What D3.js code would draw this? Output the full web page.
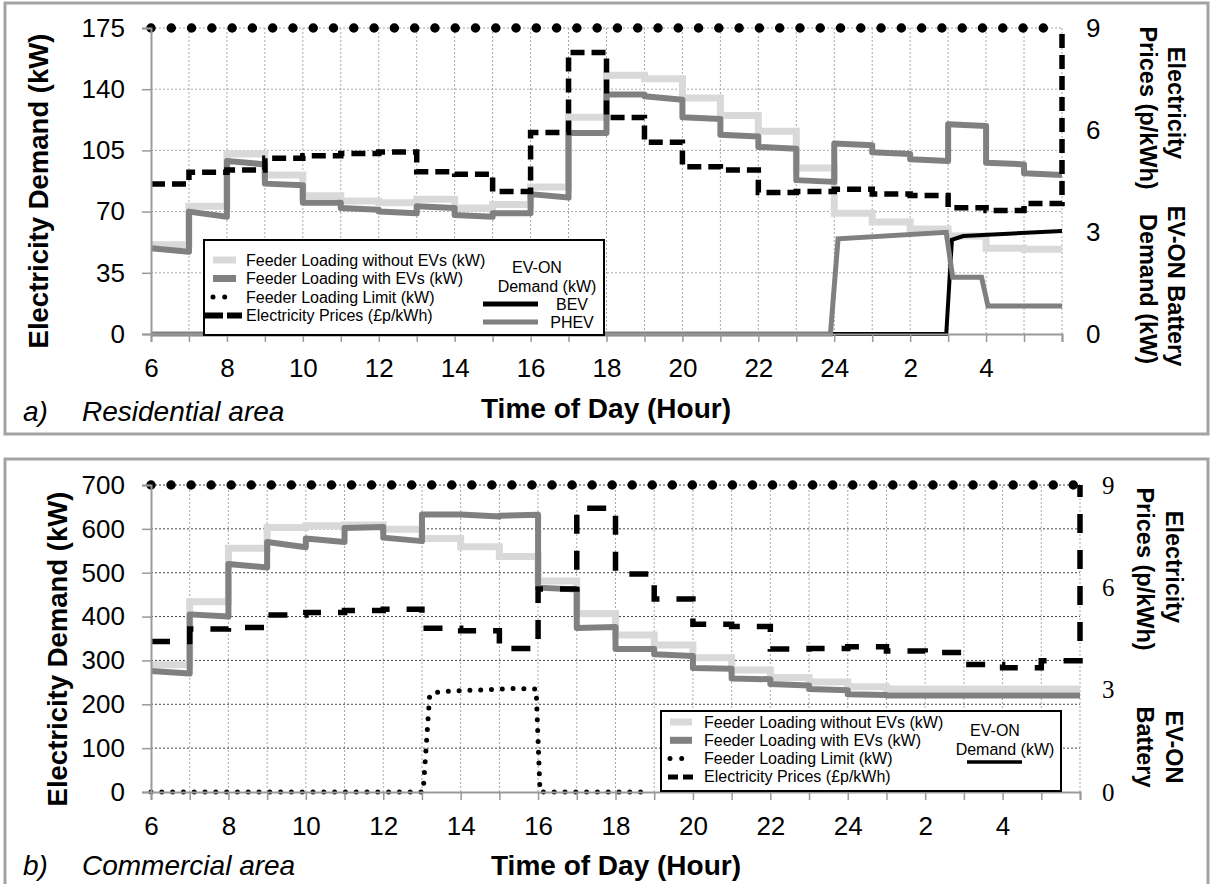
<!DOCTYPE html>
<html>
<head>
<meta charset="utf-8">
<script src="https://cdn.jsdelivr.net/npm/d3@7"></script>
<style>
body { margin: 0; background: #fff; }
text { font-family: "Liberation Sans", Arial, sans-serif; }
</style>
</head>
<body>
<script>
// hourly intervals 6:00 .. 5:00 next day (hour 24 = midnight)
const hours = d3.range(6, 30);
const tickHours = d3.range(6, 31);
const xLabelHours = d3.range(6, 30, 2);
const xLabels = ["6", "8", "10", "12", "14", "16", "18", "20", "22", "24", "2", "4"];
const priceTicks = [0, 3, 6, 9];
const legendLabels = ["Feeder Loading without EVs (kW)", "Feeder Loading with EVs (kW)",
  "Feeder Loading Limit (kW)", "Electricity Prices (£p/kWh)"];

// a) residential area
const resTicks = [0, 35, 70, 105, 140, 175];
const resLimit = 175;
const resNoEV = [51, 73, 103, 91, 79, 76, 75, 77, 72, 74, 84, 124, 148, 146, 135, 125, 116, 95, 69, 64, 60, 56, 49, 48.5];
const resEVStart = [49, 70, 99, 86, 75, 72, 70, 73, 68, 69, 80, 115, 137, 136, 124, 114, 107, 88, 109, 104, 100, 120, 98, 92];
const resEVEnd = [47, 67, 97, 85, 75, 71, 69, 72, 67, 69, 78, 115, 137, 134, 123, 113, 106, 87, 108, 103, 99, 119, 97, 91];
const resPrice = [4.41, 4.76, 4.82, 5.17, 5.24, 5.31, 5.35, 4.77, 4.70, 4.19, 5.93, 8.28, 6.37, 5.64, 4.92, 4.82, 4.16, 4.19, 4.26, 4.12, 4.07, 3.71, 3.63, 3.84];
const resPriceEnd = 9;
const resBEV = [[6, 0], [26.95, 0], [27.1, 2.77], [27.4, 2.88], [30, 3.03]];
const resPHEV = [[6, 0], [23.9, 0], [24.1, 2.8], [26.95, 2.99], [27.12, 1.67], [27.88, 1.67], [28.05, 0.82], [30, 0.82]];

// b) commercial area
const comTicks = [0, 100, 200, 300, 400, 500, 600, 700];
const comLimit = 700;
const comNoEV = [290, 434, 556, 603, 607, 609, 599, 578, 559, 537, 481, 407, 358, 335, 306, 278, 261, 251, 240, 235, 235, 235, 235, 235];
const comEVStart = [276, 405, 520, 570, 578, 602, 580, 633, 633, 630, 466, 374, 326, 314, 283, 259, 246, 235, 223, 220, 220, 220, 220, 220];
const comEVEnd = [270, 400, 512, 558, 570, 604, 572, 633, 628, 632, 462, 376, 326, 310, 281, 257, 243, 232, 221, 220, 220, 220, 220, 220];
const comPrice = [4.41, 4.78, 4.82, 5.19, 5.26, 5.32, 5.36, 4.80, 4.73, 4.21, 5.95, 8.32, 6.39, 5.66, 4.92, 4.85, 4.19, 4.21, 4.26, 4.13, 4.09, 3.74, 3.64, 3.85];
const comPriceEnd = 9;
const comEVON = [[6, 0], [13.03, 0], [13.2, 222], [13.45, 229], [15.4, 236], [15.95, 235], [16.05, 0], [18.8, 0]];

const svg = d3.select("body").append("svg")
  .attr("width", 1212)
  .attr("height", 884);

function stepPts(vals) {
  const pts = [];
  vals.forEach((v, i) => { pts.push([hours[i], v], [hours[i] + 1, v]); });
  return pts;
}

function slopePts(starts, ends) {
  const pts = [];
  starts.forEach((v, i) => { pts.push([hours[i], v], [hours[i] + 1, ends[i]]); });
  return pts;
}

function drawPanel(c) {
  const g = svg.append("g");

  g.append("rect")
    .attr("x", 5).attr("y", c.boxY)
    .attr("width", 1203).attr("height", c.boxH)
    .attr("fill", "#fff")
    .attr("stroke", "#a3a3a3")
    .attr("stroke-width", 3);

  const x = d3.scaleLinear().domain([6, 30]).range(c.xRange);
  const y = d3.scaleLinear().domain([0, c.yMax]).range(c.yRange);
  const y2 = d3.scaleLinear().domain([0, 9]).range(c.yRange);

  // grid
  g.selectAll(".vgrid")
    .data(tickHours.slice(1))
    .enter().append("line")
    .attr("x1", d => x(d)).attr("x2", d => x(d))
    .attr("y1", y(0)).attr("y2", y(c.yMax))
    .attr("stroke", "#a8a8a8")
    .attr("stroke-width", 1)
    .attr("stroke-dasharray", "2,2");

  g.selectAll(".hgrid")
    .data(c.yTicks.slice(1))
    .enter().append("line")
    .attr("x1", x(6)).attr("x2", x(30))
    .attr("y1", d => y(d)).attr("y2", d => y(d))
    .attr("stroke", c.hGrid)
    .attr("stroke-width", 1)
    .attr("stroke-dasharray", "2,2");

  const lineL = d3.line().x(d => x(d[0])).y(d => y(d[1]));
  const lineR = d3.line().x(d => x(d[0])).y(d => y2(d[1]));

  g.append("path")
    .attr("d", lineL(stepPts(c.noEV)))
    .attr("fill", "none").attr("stroke", "#d9d9d9").attr("stroke-width", 7);

  g.append("path")
    .attr("d", lineL(slopePts(c.evStart, c.evEnd)))
    .attr("fill", "none").attr("stroke", "#808080").attr("stroke-width", 6)
    .attr("stroke-linejoin", "round");

  g.append("path")
    .attr("d", lineL([[6, c.limit], [30, c.limit]]))
    .attr("fill", "none").attr("stroke", "#000").attr("stroke-width", 9.5)
    .attr("stroke-linecap", "round")
    .attr("stroke-dasharray", c.limitDash);

  if (c.evon) {
    g.append("path")
      .attr("d", lineL(c.evon))
      .attr("fill", "none").attr("stroke", "#000").attr("stroke-width", 5)
      .attr("stroke-linecap", "round")
      .attr("stroke-dasharray", "0,10.8");
  }

  g.append("path")
    .attr("d", lineR(stepPts(c.price).concat([[30, c.priceEnd]])))
    .attr("fill", "none").attr("stroke", "#000").attr("stroke-width", 5.5)
    .attr("stroke-dasharray", c.priceDash);

  if (c.bev) {
    g.append("path")
      .attr("d", lineR(c.bev))
      .attr("fill", "none").attr("stroke", "#000").attr("stroke-width", 4);
    g.append("path")
      .attr("d", lineR(c.phev))
      .attr("fill", "none").attr("stroke", "#808080").attr("stroke-width", 5);
  }

  // axes
  const ax = g.append("g")
    .attr("transform", "translate(0," + y(0) + ")")
    .call(d3.axisBottom(x).tickValues(tickHours).tickSize(8).tickPadding(17)
      .tickFormat(d => { const i = xLabelHours.indexOf(d); return i < 0 ? "" : xLabels[i]; }));
  const ay = g.append("g")
    .attr("transform", "translate(" + x(6) + ",0)")
    .call(d3.axisLeft(y).tickValues(c.yTicks).tickSize(9).tickPadding(17));
  [ax, ay].forEach(a => {
    a.select(".domain").attr("stroke", "#999").attr("stroke-width", 2);
    a.selectAll(".tick line").attr("stroke", "#999").attr("stroke-width", 1.5);
    a.selectAll("text").attr("fill", "#000").style("font-size", "26px")
      .style("font-family", "'Liberation Sans', Arial, sans-serif");
  });

  const ar = g.append("g")
    .attr("transform", "translate(" + x(30) + ",0)")
    .call(d3.axisRight(y2).tickValues(priceTicks).tickSize(0).tickPadding(c.rPad));
  ar.select(".domain").remove();
  ar.selectAll("text").attr("fill", "#000").style("font-size", c.rFontSize)
    .style("font-family", c.rFont);

  // titles
  g.append("text")
    .attr("transform", "translate(" + c.yTitle[0] + "," + c.yTitle[1] + ") rotate(-90)")
    .attr("text-anchor", "middle").attr("dominant-baseline", "central")
    .style("font-size", "27.5px").style("font-weight", "bold")
    .text("Electricity Demand (kW)");

  g.append("text")
    .attr("x", c.xTitle[0]).attr("y", c.xTitle[1])
    .attr("text-anchor", "middle")
    .style("font-size", "28px").style("font-weight", "bold")
    .text("Time of Day (Hour)");

  c.rTitles.forEach(t => {
    g.append("text")
      .attr("transform", "translate(" + t[1] + "," + t[2] + ") rotate(90)")
      .attr("text-anchor", "middle").attr("dominant-baseline", "central")
      .style("font-size", "23.5px").style("font-weight", "bold")
      .text(t[0]);
  });

  g.append("text")
    .attr("x", 23).attr("y", c.capY)
    .style("font-size", "28px").style("font-style", "italic")
    .text(c.capTag);
  g.append("text")
    .attr("x", 82).attr("y", c.capY)
    .style("font-size", "28px").style("font-style", "italic")
    .text(c.capText);

  // legend
  const L = c.legend;
  const lg = g.append("g");
  lg.append("rect")
    .attr("x", L.x).attr("y", L.y).attr("width", L.w).attr("height", L.h)
    .attr("fill", "#fff").attr("stroke", "#000").attr("stroke-width", 2);

  const styles = [
    { stroke: "#d9d9d9", width: 7, dash: null, cap: "butt" },
    { stroke: "#808080", width: 7, dash: null, cap: "butt" },
    { stroke: "#000", width: 5, dash: "0,11.7", cap: "round" },
    { stroke: "#000", width: L.dashW, dash: L.dash, cap: "butt" }
  ];
  const items = lg.selectAll(".item")
    .data(legendLabels)
    .enter().append("g")
    .attr("transform", (d, i) => "translate(0," + (L.row0 + i * L.rowStep) + ")");
  items.append("line")
    .attr("x1", (d, i) => i === 3 ? L.dashX[0] : L.sx[0])
    .attr("x2", (d, i) => i === 3 ? L.dashX[1] : L.sx[1])
    .attr("stroke", (d, i) => styles[i].stroke)
    .attr("stroke-width", (d, i) => styles[i].width)
    .attr("stroke-linecap", (d, i) => styles[i].cap)
    .attr("stroke-dasharray", (d, i) => styles[i].dash);
  items.append("text")
    .attr("x", L.tx)
    .attr("dominant-baseline", "central")
    .style("font-size", "16px")
    .text(d => d);

  lg.append("text").attr("x", L.evon[0]).attr("y", L.evon[1])
    .attr("text-anchor", "middle").attr("dominant-baseline", "central")
    .style("font-size", "16px").text("EV-ON");
  lg.append("text").attr("x", L.dem[0]).attr("y", L.dem[1])
    .attr("text-anchor", "middle").attr("dominant-baseline", "central")
    .style("font-size", "16px").text("Demand (kW)");

  L.keys.forEach(k => {
    lg.append("line")
      .attr("x1", k.x[0]).attr("x2", k.x[1]).attr("y1", k.y).attr("y2", k.y)
      .attr("stroke", k.color).attr("stroke-width", k.w);
    if (k.label) {
      lg.append("text").attr("x", k.tx).attr("y", k.y)
        .attr("text-anchor", "middle").attr("dominant-baseline", "central")
        .style("font-size", "16px").text(k.label);
    }
  });
}

drawPanel({
  boxY: 3, boxH: 431,
  xRange: [151, 1062], yRange: [334, 28],
  yMax: 175, yTicks: resTicks, limit: resLimit, hGrid: "#a8a8a8",
  noEV: resNoEV, evStart: resEVStart, evEnd: resEVEnd,
  price: resPrice, priceEnd: resPriceEnd, priceDash: "14,7",
  limitDash: "0,20.28",
  bev: resBEV, phev: resPHEV,
  rPad: 24, rFontSize: "26px", rFont: "'Liberation Sans', Arial, sans-serif",
  yTitle: [38, 191], xTitle: [606, 418],
  rTitles: [["Electricity", 1176, 103], ["Prices (p/kWh)", 1148, 108],
    ["EV-ON Battery", 1176, 286], ["Demand (kW)", 1148, 289]],
  capTag: "a)", capText: "Residential area", capY: 421,
  legend: {
    x: 204, y: 240, w: 400, h: 95, row0: 260, rowStep: 18.5,
    sx: [213, 236], dashX: [205, 242], dash: "18,4", dashW: 6, tx: 246,
    evon: [537, 267], dem: [547, 286],
    keys: [
      { x: [483, 538], y: 304, color: "#000", w: 5, label: "BEV", tx: 572 },
      { x: [483, 538], y: 322, color: "#808080", w: 5, label: "PHEV", tx: 572 }
    ]
  }
});

drawPanel({
  boxY: 459, boxH: 440,
  xRange: [151, 1080], yRange: [792, 485],
  yMax: 700, yTicks: comTicks, limit: comLimit, hGrid: "#444",
  noEV: comNoEV, evStart: comEVStart, evEnd: comEVEnd,
  price: comPrice, priceEnd: comPriceEnd, priceDash: "19,17",
  limitDash: "0,20.05",
  evon: comEVON,
  rPad: 22, rFontSize: "25px", rFont: "'Liberation Serif', 'Times New Roman', serif",
  yTitle: [57, 649], xTitle: [616, 875],
  rTitles: [["Electricity", 1174, 567], ["Prices (p/kWh)", 1145, 569],
    ["EV-ON", 1174, 747], ["Battery", 1145, 747]],
  capTag: "b)", capText: "Commercial area", capY: 875,
  legend: {
    x: 661, y: 711, w: 400, h: 80, row0: 722, rowStep: 18.3,
    sx: [670, 692], dashX: [668, 695], dash: "10,5", dashW: 5, tx: 704,
    evon: [995, 730], dem: [1005, 749],
    keys: [
      { x: [967, 1022], y: 762, color: "#000", w: 3.5 }
    ]
  }
});
</script>
</body>
</html>
